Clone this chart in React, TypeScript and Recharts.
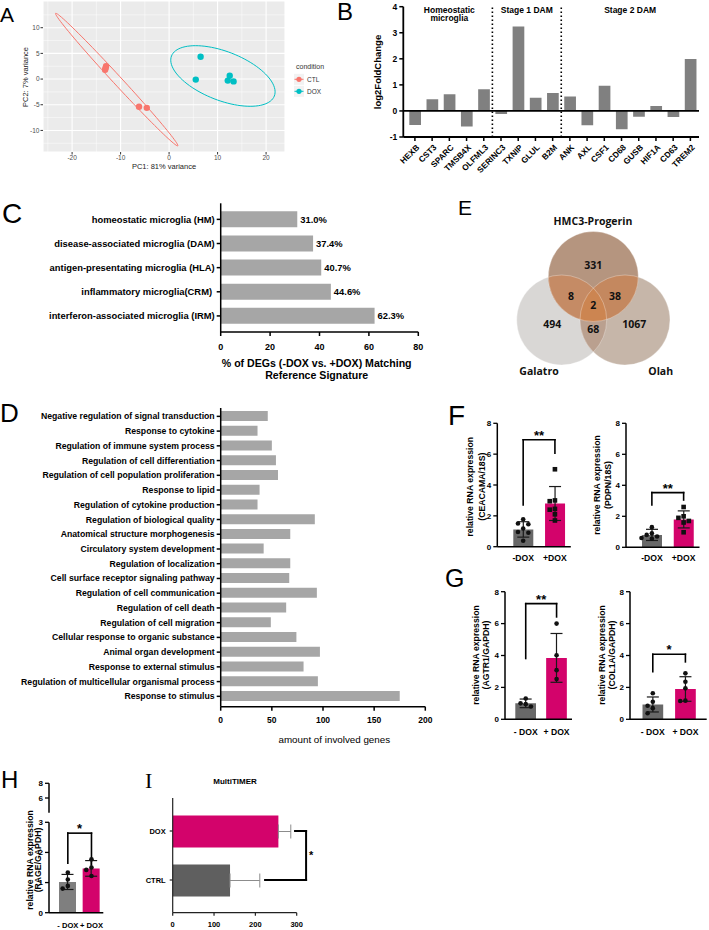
import React from "react";
import {
  ScatterChart,
  Scatter,
  BarChart,
  ComposedChart,
  Bar,
  Cell,
  XAxis,
  YAxis,
  CartesianGrid,
  ReferenceLine,
  ErrorBar,
  LabelList,
} from "recharts";

const SANS = "'Liberation Sans', Arial, Helvetica, sans-serif";
const BLACK = "#000";
const MAGENTA = "#D3036B";
const DARK_GREY = "#686868";
const MID_GREY = "#7F7F7F";
const BAR_GREY = "#A6A6A6";
const CTL_RED = "#F8766D";
const DOX_TEAL = "#00BFC4";

// ---- A: PCA ----
const pcaCtl = [
  { pc1: -13.0, pc2: 2.5 },
  { pc1: -13.1, pc2: 2.1 },
  { pc1: -13.2, pc2: 1.8 },
  { pc1: -6.2, pc2: -5.4 },
  { pc1: -4.6, pc2: -5.6 },
];
const pcaDox = [
  { pc1: 6.5, pc2: 4.35 },
  { pc1: 5.5, pc2: -0.1 },
  { pc1: 12.5, pc2: 0.65 },
  { pc1: 12.1, pc2: -0.3 },
  { pc1: 13.3, pc2: -0.45 },
];
// ellipse = centre + two semi-axis vectors (PC units)
const ctlEllipse = { cx: -10.8, cy: -0.1, ax: 12.6, ay: -12.9, bx: 0.65, by: 0.57 };
const doxEllipse = { cx: 11.1, cy: 0.6, ax: 10.6, ay: -3.9, bx: 1.83, by: 4.43 };
const pcaXMajor = [-20, -10, 0, 10, 20];
const pcaYMajor = [-10, -5, 0, 5, 10];
const pcaXMinor = [-25, -15, -5, 5, 15];
const pcaYMinor = [-12.5, -7.5, -2.5, 2.5, 7.5, 12.5];

// ---- B: log2 fold change of microglia markers ----
const genes = ["HEXB", "CST3", "SPARC", "TMSB4X", "OLFML3", "SERINC3", "TXNIP", "GLUL", "B2M",
  "ANK", "AXL", "CSF1", "CD68", "GUSB", "HIF1A", "CD63", "TREM2"];
const log2fc = [-0.54, 0.45, 0.64, -0.6, 0.83, -0.12, 3.24, 0.51, 0.69,
  0.55, -0.55, 0.97, -0.7, -0.22, 0.19, -0.23, 1.99];
const geneGroups = [
  { lines: ["Homeostatic", "microglia"], at: 2 },
  { lines: ["Stage 1 DAM"], at: 6.5 },
  { lines: ["Stage 2 DAM"], at: 12.5 },
];
const groupDividers = [4.5, 8.5];

// ---- C: signature matching ----
const signatures = [
  "homeostatic microglia (HM)",
  "disease-associated microglia (DAM)",
  "antigen-presentating microglia (HLA)",
  "inflammatory microglia(CRM)\u00a0",
  "interferon-associated microglia (IRM)",
];
const matchPct = [31.0, 37.4, 40.7, 44.6, 62.3];

// ---- D: GO terms ----
const goTerms = [
  "Negative regulation of signal transduction",
  "Response to cytokine",
  "Regulation of immune system process",
  "Regulation of cell differentiation",
  "Regulation of cell population proliferation",
  "Response to lipid",
  "Regulation of cytokine production",
  "Regulation of biological quality",
  "Anatomical structure morphogenesis",
  "Circulatory system development",
  "Regulation of localization",
  "Cell surface receptor signaling pathway",
  "Regulation of cell communication",
  "Regulation of cell death",
  "Regulation of cell migration",
  "Cellular response to organic substance",
  "Animal organ development",
  "Response to external stimulus",
  "Regulation of multicellular organismal process",
  "Response to stimulus",
];
const goGenes = [46, 36, 50, 54, 56, 38, 36, 92, 68, 42, 68, 67, 94, 64, 49, 74, 97, 81, 95, 175];

// ---- E: Venn ----
const vennSets = [
  { name: "Galatro", x: 61.7, y: 110, r: 45 },
  { name: "Olah", x: 125, y: 110, r: 45 },
  { name: "HMC3-Progerin", x: 93.3, y: 66.5, r: 45 },
];
const vennCounts = [
  { text: "331", x: 93.3, y: 55.7 },
  { text: "8", x: 71, y: 86 },
  { text: "38", x: 115, y: 86 },
  { text: "2", x: 93.3, y: 95 },
  { text: "494", x: 52.3, y: 114 },
  { text: "68", x: 93.3, y: 119 },
  { text: "1067", x: 134.3, y: 114 },
];
const vennLabels = [
  { text: "HMC3-Progerin", x: 93, y: 11.7 },
  { text: "Galatro", x: 39, y: 161.7 },
  { text: "Olah", x: 160.7, y: 161.7 },
];

// ---- F / G / H: qPCR ----
const doxNoSpace = ["-DOX", "+DOX"];
const doxSpaced = ["- DOX", "+ DOX"];
const ceacamMeans = [1.12, 2.8];
const ceacamSds = [0.5, 1.1];
const ceacamPoints = [[1.78, 1.5, 1.46, 1.18, 0.95, 0.9, 0.39], [5.02, 3.0, 2.95, 2.45, 2.4, 2.1, 1.7]];
const pdpnMeans = [0.8, 1.8];
const pdpnSds = [0.36, 0.55];
const pdpnPoints = [[1.3, 0.9, 0.8, 0.7, 0.6, 0.55], [2.6, 2.0, 1.9, 1.7, 1.6, 0.97]];
const agtr1Means = [1.0, 3.85];
const agtr1Sds = [0.27, 1.53];
const agtr1Points = [[1.3, 1.0, 0.95, 0.8], [6.0, 4.02, 3.08, 2.52]];
const col1aMeans = [0.93, 1.9];
const col1aSds = [0.47, 0.77];
const col1aPoints = [[1.63, 1.1, 0.85, 0.7, 0.38], [2.88, 2.35, 1.94, 1.17, 1.15]];
const rageMeans = [1.02, 1.47];
const rageSds = [0.25, 0.26];
const ragePoints = [[1.33, 1.1, 0.89, 0.8], [1.77, 1.5, 1.42, 1.22]];
const qpcrTicks = [0, 2, 4, 6, 8];

// ---- I: MultiTIMER ----
const timerGroups = ["DOX", "CTRL"];
const timerMeans = [255.7, 138.7];
const timerSds = [30, 72];

function ellipsePoints(e: typeof ctlEllipse) {
  const pts = [];
  for (let i = 0; i <= 96; i++) {
    const t = (i / 96) * Math.PI * 2;
    pts.push({
      pc1: e.cx + e.ax * Math.cos(t) + e.bx * Math.sin(t),
      pc2: e.cy + e.ay * Math.cos(t) + e.by * Math.sin(t),
    });
  }
  return pts;
}

// horizontal spread so replicate dots don't sit on top of each other
function swarm(values: number[], pxPerUnit: number, spacing = 5.2): number[] {
  const placed: { x: number; y: number }[] = [];
  const slots = [0, -1, 1, -2, 2, -3, 3];
  return values.map((v) => {
    const y = v * pxPerUnit;
    for (const s of slots) {
      const x = s * spacing;
      if (placed.every((p) => Math.hypot(p.x - x, p.y - y) >= spacing)) {
        placed.push({ x, y });
        return x;
      }
    }
    placed.push({ x: 0, y });
    return 0;
  });
}

function VTitle({ tx, ty, lines, size = 8.7, weight = 700, gap = 10, color = BLACK }: any) {
  return (
    <text transform={`translate(${tx} ${ty}) rotate(-90)`} textAnchor="middle" fontSize={size}
      fontWeight={weight} fontFamily={SANS} fill={color}>
      {lines.map((l: string, i: number) => (
        <tspan key={i} x={0} dy={i === 0 ? 0 : gap}>{l}</tspan>
      ))}
    </text>
  );
}

function HTitle({ tx, ty, lines, size = 9, weight = 700, gap = 12, color = BLACK }: any) {
  return (
    <text x={tx} y={ty} textAnchor="middle" fontSize={size} fontWeight={weight} fontFamily={SANS} fill={color}>
      {lines.map((l: string, i: number) => (
        <tspan key={i} x={tx} dy={i === 0 ? 0 : gap}>{l}</tspan>
      ))}
    </text>
  );
}

// single-line category tick (Recharts' own tick text wraps long labels)
function CatTick({ x, y, payload, size = 8.5, anchor = "end", dy = 0.35 }: any) {
  return (
    <text x={x} y={y} dy={`${dy}em`} textAnchor={anchor} fontSize={size} fontWeight={700}
      fontFamily={SANS} fill={BLACK}>
      {payload.value}
    </text>
  );
}

function GroupTitle({ viewBox, lines }: any) {
  const x = viewBox?.x ?? 0;
  const y = viewBox?.y ?? 0;
  return (
    <text x={x} y={y + 5.8} textAnchor="middle" fontSize={8.5} fontWeight={700} fontFamily={SANS} fill={BLACK}>
      {lines.map((l: string, i: number) => (
        <tspan key={i} x={x} dy={i === 0 ? 0 : 8.8}>{l}</tspan>
      ))}
    </text>
  );
}

function GeneTick({ x, y, payload }: any) {
  const ax = x + 5;
  const ay = y + 5;
  return (
    <text x={ax} y={ay} transform={`rotate(-45 ${ax} ${ay})`} textAnchor="end" fontSize={8.3}
      fontWeight={700} fontFamily={SANS} fill={BLACK}>
      {payload.value}
    </text>
  );
}

function PcaPanel() {
  const tick = { fontSize: 6.5, fill: "#4D4D4D", fontFamily: SANS };
  return (
    <div style={{ position: "absolute", left: 0, top: 0 }}>
      <ScatterChart width={290} height={172} margin={{ top: 1, right: 5, bottom: 0, left: 0 }}>
        <CartesianGrid fill="#EBEBEB" stroke="#FFFFFF" strokeWidth={1.1} />
        {pcaXMinor.map((v) => (
          <ReferenceLine key={`mx${v}`} x={v} stroke="#FFFFFF" strokeWidth={0.5} />
        ))}
        {pcaYMinor.map((v) => (
          <ReferenceLine key={`my${v}`} y={v} stroke="#FFFFFF" strokeWidth={0.5} />
        ))}
        <XAxis type="number" dataKey="pc1" domain={[-26, 23.9]} allowDataOverflow ticks={pcaXMajor}
          axisLine={false} tickLine={{ stroke: "#333" }} tickSize={2.5} tickMargin={1} tick={tick} height={20}
          label={<HTitle tx={164} ty={169} lines={["PC1: 81% variance"]} size={7.5} weight={400} color="#222" />} />
        <YAxis type="number" dataKey="pc2" domain={[-14.2, 15.2]} allowDataOverflow ticks={pcaYMajor}
          axisLine={false} tickLine={{ stroke: "#333" }} tickSize={2.5} tickMargin={1} tick={tick} width={43}
          label={<VTitle tx={27.5} ty={77} lines={["PC2: 7% variance"]} size={7.5} weight={400} color="#222" />} />
        <Scatter data={pcaCtl} isAnimationActive={false}
          shape={(p: any) => <circle cx={p.cx} cy={p.cy} r={3.2} fill={CTL_RED} />} />
        <Scatter data={pcaDox} isAnimationActive={false}
          shape={(p: any) => <circle cx={p.cx} cy={p.cy} r={3.2} fill={DOX_TEAL} />} />
        <Scatter data={ellipsePoints(ctlEllipse)} line={{ stroke: CTL_RED, strokeWidth: 1 }}
          shape={() => <g />} isAnimationActive={false} />
        <Scatter data={ellipsePoints(doxEllipse)} line={{ stroke: DOX_TEAL, strokeWidth: 1 }}
          shape={() => <g />} isAnimationActive={false} />
      </ScatterChart>
    </div>
  );
}

function FoldChangePanel() {
  const rows = genes.map((g, i) => ({ gene: g, lfc: log2fc[i], idx: i }));
  return (
    <div style={{ position: "absolute", left: 340, top: 0 }}>
      <BarChart width={369} height={190} data={rows} margin={{ top: 6.7, right: 10, bottom: 0, left: 0 }} barSize={11.7}>
        <XAxis dataKey="gene" interval={0} height={53} padding={{ left: 3, right: 0 }} tick={<GeneTick />}
          tickLine={{ stroke: BLACK, strokeWidth: 1.5 }} tickSize={4}
          axisLine={{ stroke: BLACK, strokeWidth: 1.8 }} />
        <XAxis xAxisId="n" type="number" dataKey="idx" domain={[-0.5, 16.5]} allowDataOverflow hide
          padding={{ left: 3, right: 0 }} />
        <YAxis type="number" domain={[-1, 4]} ticks={[-1, 0, 1, 2, 3, 4]} allowDataOverflow width={63.3}
          tickSize={4} tickMargin={2} axisLine={{ stroke: BLACK, strokeWidth: 1.8 }}
          tickLine={{ stroke: BLACK, strokeWidth: 1.5 }}
          tick={{ fontSize: 8.5, fontWeight: 700, fill: BLACK, fontFamily: SANS }}
          label={<VTitle tx={40.5} ty={72} lines={["log2FoldChange"]} size={9.5} />} />
        <Bar dataKey="lfc" fill="#808080" isAnimationActive={false} />
        <ReferenceLine y={0} stroke={BLACK} strokeWidth={1.8} />
        {groupDividers.map((v) => (
          <ReferenceLine key={v} xAxisId="n" x={v} stroke={BLACK} strokeWidth={1.6} strokeDasharray="1.4 2.6" />
        ))}
        {geneGroups.map((g) => (
          <ReferenceLine key={g.at} xAxisId="n" x={g.at} stroke="none" label={<GroupTitle lines={g.lines} />} />
        ))}
      </BarChart>
    </div>
  );
}

function SignaturePanel() {
  const rows = signatures.map((s, i) => ({ sig: s, pct: matchPct[i] }));
  return (
    <div style={{ position: "absolute", left: 0, top: 195 }}>
      <BarChart layout="vertical" width={430} height={197} data={rows} barSize={16}
        margin={{ top: 8.3, right: 11.7, bottom: 0, left: 0 }}>
        <XAxis type="number" domain={[0, 80]} ticks={[0, 20, 40, 60, 80]} height={60} tickSize={4} tickMargin={8}
          axisLine={{ stroke: BLACK, strokeWidth: 1.5 }} tickLine={{ stroke: BLACK, strokeWidth: 1.5 }}
          tick={{ fontSize: 9, fontWeight: 700, fill: BLACK, fontFamily: SANS }}
          label={<HTitle tx={316.7} ty={171.8} lines={["% of DEGs (-DOX vs. +DOX) Matching", "Reference Signature"]} size={10.6} gap={12} />} />
        <YAxis type="category" dataKey="sig" width={220.7} padding={{ top: 4, bottom: 4 }} interval={0}
          tickSize={4} tickMargin={2} axisLine={{ stroke: BLACK, strokeWidth: 1.5 }}
          tickLine={{ stroke: BLACK, strokeWidth: 1.5 }}
          tick={<CatTick size={9.4} />} />
        <Bar dataKey="pct" fill={BAR_GREY} isAnimationActive={false}>
          <LabelList dataKey="pct" position="right" offset={3}
            formatter={(v: any) => `${Number(v).toFixed(1)}%`}
            style={{ fontSize: 9.4, fontWeight: 700, fill: BLACK, fontFamily: SANS }} />
        </Bar>
      </BarChart>
    </div>
  );
}

function GoPanel() {
  const rows = goTerms.map((t, i) => ({ term: t, n: goGenes[i] }));
  return (
    <div style={{ position: "absolute", left: 0, top: 400 }}>
      <BarChart layout="vertical" width={440} height={352} data={rows} barSize={10}
        margin={{ top: 8, right: 14.7, bottom: 0, left: 0 }}>
        <XAxis type="number" domain={[0, 200]} ticks={[0, 50, 100, 150, 200]} height={45.3} tickSize={4} tickMargin={6}
          axisLine={{ stroke: BLACK, strokeWidth: 1.5 }} tickLine={{ stroke: BLACK, strokeWidth: 1.5 }}
          tick={{ fontSize: 8.5, fontWeight: 700, fill: BLACK, fontFamily: SANS }}
          label={<HTitle tx={334.3} ty={342.6} lines={["amount of involved genes"]} size={9.8} weight={400} />} />
        <YAxis type="category" dataKey="term" width={220.7} padding={{ top: 1, bottom: 3 }} interval={0}
          tickSize={4} tickMargin={2} axisLine={{ stroke: BLACK, strokeWidth: 1.5 }}
          tickLine={{ stroke: BLACK, strokeWidth: 1.5 }}
          tick={<CatTick size={8.7} />} />
        <Bar dataKey="n" fill={BAR_GREY} isAnimationActive={false} />
      </BarChart>
    </div>
  );
}

const VENN_FILL: Record<string, string> = {
  Galatro: "#D9D7D5",
  Olah: "#C6B6A9",
  "HMC3-Progerin": "#B5957F",
};

function VennCircle(props: any) {
  const { cx, cy, payload } = props;
  const at = (name: string) => {
    const s = vennSets.find((v) => v.name === name)!;
    return { x: cx + (s.x - payload.x), y: cy + (s.y - payload.y), r: s.r };
  };
  const me = { x: cx, y: cy, r: payload.r };
  const gal = at("Galatro");
  const olah = at("Olah");
  const own = <circle cx={me.x} cy={me.y} r={me.r} fill={VENN_FILL[payload.name]} />;
  if (payload.name === "Galatro") return own;
  if (payload.name === "Olah") {
    return (
      <g>
        <defs>
          <clipPath id="venn-clip-gal-a"><circle cx={gal.x} cy={gal.y} r={gal.r} /></clipPath>
        </defs>
        {own}
        <circle cx={me.x} cy={me.y} r={me.r} fill="#BAA08F" clipPath="url(#venn-clip-gal-a)" />
      </g>
    );
  }
  return (
    <g>
      <defs>
        <clipPath id="venn-clip-gal-b"><circle cx={gal.x} cy={gal.y} r={gal.r} /></clipPath>
        <clipPath id="venn-clip-olah-b"><circle cx={olah.x} cy={olah.y} r={olah.r} /></clipPath>
      </defs>
      {own}
      <circle cx={me.x} cy={me.y} r={me.r} fill="#C58B65" clipPath="url(#venn-clip-gal-b)" />
      <circle cx={me.x} cy={me.y} r={me.r} fill="#C4885F" clipPath="url(#venn-clip-olah-b)" />
      <g clipPath="url(#venn-clip-gal-b)">
        <circle cx={me.x} cy={me.y} r={me.r} fill="#CC8551" clipPath="url(#venn-clip-olah-b)" />
      </g>
      {[gal, olah, me].map((c, i) => (
        <circle key={i} cx={c.x} cy={c.y} r={c.r} fill="none" stroke="#FFFFFF" strokeOpacity={0.35} strokeWidth={0.9} />
      ))}
    </g>
  );
}

function VennText(props: any) {
  const { cx, cy, payload } = props;
  return (
    <text x={cx} y={cy + 3.7} textAnchor="middle" fontSize={10.5} fontWeight={700}
      fontFamily="'Open Sans', 'Liberation Sans', sans-serif" fill="#111">
      {payload.text}
    </text>
  );
}

function VennPanel() {
  return (
    <div style={{ position: "absolute", left: 500, top: 210 }}>
      <ScatterChart width={200} height={175} margin={{ top: 0, right: 0, bottom: 0, left: 0 }}>
        <XAxis type="number" dataKey="x" domain={[0, 200]} allowDataOverflow hide />
        <YAxis type="number" dataKey="y" domain={[0, 175]} allowDataOverflow hide reversed />
        <Scatter data={vennSets} shape={VennCircle} isAnimationActive={false} />
        <Scatter data={vennCounts} shape={VennText} isAnimationActive={false} />
        <Scatter data={vennLabels} shape={VennText} isAnimationActive={false} />
      </ScatterChart>
    </div>
  );
}

type Bracket = { from: number; to: number; top: number; mark: string };

function bracketLines(groups: string[], b: Bracket) {
  const line = { stroke: BLACK, strokeWidth: 1.6, ifOverflow: "visible" as const, strokeLinecap: "square" as const };
  return [
    <ReferenceLine key="bl" {...line} segment={[{ x: groups[0], y: b.from }, { x: groups[0], y: b.top }]} />,
    <ReferenceLine key="bt" {...line} segment={[{ x: groups[0], y: b.top }, { x: groups[1], y: b.top }]}
      label={{ value: b.mark, position: "top", offset: 0, fontSize: 13, fontWeight: 700, fill: BLACK, fontFamily: SANS }} />,
    <ReferenceLine key="br" {...line} segment={[{ x: groups[1], y: b.top }, { x: groups[1], y: b.to }]} />,
  ];
}

type DotBarProps = {
  box: { left: number; top: number; width: number; height: number };
  margin: { top: number; right: number; bottom: number; left: number };
  yWidth: number;
  xHeight: number;
  pad: { left: number; right: number };
  domain: [number, number];
  ticks: number[];
  groups: string[];
  means: number[];
  sds: number[];
  points: number[][];
  fills: string[];
  squareGroup?: string;
  bracket: Bracket;
  title: { tx: number; ty: number; gap: number; lines: string[] };
  xTickMargin: number;
  xTickSize?: number;
  barSize: number;
};

function DotBarChart(p: DotBarProps) {
  const plotH = p.box.height - p.margin.top - p.margin.bottom - p.xHeight;
  const ppu = plotH / (p.domain[1] - p.domain[0]);
  const rows = p.groups.map((g, gi) => {
    const row: Record<string, any> = { g, mean: p.means[gi], sd: p.sds[gi] };
    const dx = swarm(p.points[gi], ppu);
    p.points[gi].forEach((v, k) => {
      row[`p${k}`] = v;
      row[`dx${k}`] = dx[k];
    });
    return row;
  });
  const n = Math.max(...p.points.map((pts) => pts.length));
  const tick = { fontSize: 8, fontWeight: 700, fill: BLACK, fontFamily: SANS };
  return (
    <div style={{ position: "absolute", left: p.box.left, top: p.box.top }}>
      <ComposedChart width={p.box.width} height={p.box.height} data={rows} margin={p.margin}>
        <XAxis dataKey="g" height={p.xHeight} padding={p.pad} tickLine={false} tickSize={0} tickMargin={p.xTickMargin}
          interval={0} axisLine={{ stroke: BLACK, strokeWidth: 1.5 }}
          tick={<CatTick size={p.xTickSize ?? 8.6} anchor="middle" dy={0.71} />} />
        <YAxis type="number" domain={p.domain} ticks={p.ticks} allowDataOverflow width={p.yWidth}
          tickSize={4} tickMargin={2} axisLine={{ stroke: BLACK, strokeWidth: 1.5 }}
          tickLine={{ stroke: BLACK, strokeWidth: 1.3 }} tick={tick}
          label={<VTitle tx={p.title.tx} ty={p.title.ty} lines={p.title.lines} gap={p.title.gap} />} />
        <Bar dataKey="mean" barSize={p.barSize} isAnimationActive={false}>
          {rows.map((_, i) => (
            <Cell key={i} fill={p.fills[i]} />
          ))}
          <ErrorBar dataKey="sd" width={6} stroke="#1A1A1A" strokeWidth={1.2} direction="y" />
        </Bar>
        {Array.from({ length: n }, (_, k) => (
          <Scatter key={k} dataKey={`p${k}`} isAnimationActive={false}
            shape={(s: any) => {
              if (s.cy == null || Number.isNaN(s.cy)) return <g />;
              const x = s.cx + (s.payload[`dx${k}`] ?? 0);
              return s.payload.g === p.squareGroup
                ? <rect x={x - 2.3} y={s.cy - 2.3} width={4.6} height={4.6} fill="#111" />
                : <circle cx={x} cy={s.cy} r={2.3} fill="#111" />;
            }} />
        ))}
        {bracketLines(p.groups, p.bracket)}
      </ComposedChart>
    </div>
  );
}

function RageUpperAxis() {
  const rows = doxSpaced.map((g) => ({ g }));
  return (
    <div style={{ position: "absolute", left: 0, top: 775 }}>
      <ComposedChart width={107} height={40} data={rows} margin={{ top: 8.3, right: 3.7, bottom: 2.3, left: 0 }}>
        <XAxis dataKey="g" hide />
        <YAxis type="number" domain={[4, 8]} ticks={[4, 6, 8]} allowDataOverflow width={49}
          tickSize={4} tickMargin={2} axisLine={{ stroke: BLACK, strokeWidth: 1.5 }}
          tickLine={{ stroke: BLACK, strokeWidth: 1.3 }}
          tick={{ fontSize: 8, fontWeight: 700, fill: BLACK, fontFamily: SANS }} />
      </ComposedChart>
    </div>
  );
}

function TimerPanel() {
  const rows = timerGroups.map((g, i) => ({ group: g, mean: timerMeans[i], err: [0, timerSds[i]] }));
  const fills = [MAGENTA, "#5F5F5F"];
  const line = { stroke: BLACK, strokeWidth: 2, ifOverflow: "visible" as const, strokeLinecap: "square" as const };
  const tick = { fontSize: 7.5, fontWeight: 700, fill: BLACK, fontFamily: SANS };
  return (
    <div style={{ position: "absolute", left: 120, top: 770 }}>
      <ComposedChart layout="vertical" width={200} height={160} data={rows}
        margin={{ top: 28, right: 23.3, bottom: 0, left: 0 }}>
        <XAxis type="number" domain={[0, 300]} ticks={[0, 100, 200, 300]} height={17.3} tickSize={3} tickMargin={6}
          axisLine={{ stroke: "#222", strokeWidth: 1.2 }} tickLine={{ stroke: "#222", strokeWidth: 1.2 }} tick={tick} />
        <YAxis type="category" dataKey="group" width={52.7} padding={{ top: 8.5, bottom: 8.2 }} tickSize={3} tickMargin={4}
          axisLine={{ stroke: "#222", strokeWidth: 1.2 }} tickLine={{ stroke: "#222", strokeWidth: 1.2 }} tick={tick} />
        <Bar dataKey="mean" barSize={32} isAnimationActive={false}>
          {rows.map((_, i) => (
            <Cell key={i} fill={fills[i]} />
          ))}
          <ErrorBar dataKey="err" direction="x" width={7} stroke="#8C8C8C" strokeWidth={1} />
        </Bar>
        <ReferenceLine {...line} segment={[{ x: 296, y: "DOX" }, { x: 322.7, y: "DOX" }]} />
        <ReferenceLine {...line} segment={[{ x: 322.7, y: "DOX" }, { x: 322.7, y: "CTRL" }]}
          label={{ value: "*", position: "right", offset: 3, fontSize: 11, fontWeight: 700, fill: BLACK, fontFamily: SANS }} />
        <ReferenceLine {...line} segment={[{ x: 223.5, y: "CTRL" }, { x: 322.7, y: "CTRL" }]} />
      </ComposedChart>
    </div>
  );
}

const panelLetters = [
  { t: "A", x: 0, y: 22, size: 21 },
  { t: "B", x: 337, y: 20, size: 24 },
  { t: "C", x: 2, y: 223, size: 28 },
  { t: "D", x: 0, y: 422, size: 26 },
  { t: "E", x: 458, y: 215, size: 21 },
  { t: "F", x: 448, y: 425, size: 28 },
  { t: "G", x: 445, y: 587, size: 25 },
  { t: "H", x: 1, y: 788, size: 24 },
];

function Overlay() {
  return (
    <svg width={709} height={930} style={{ position: "absolute", left: 0, top: 0, pointerEvents: "none" }}>
      {panelLetters.map((l) => (
        <text key={l.t} x={l.x} y={l.y} fontSize={l.size} fontFamily={SANS} fill={BLACK}>{l.t}</text>
      ))}
      <text x={145} y={788} fontSize={22} fontFamily="'Liberation Serif', 'DejaVu Serif', serif" fill={BLACK}>I</text>
      {/* ggplot legend for panel A */}
      <text x={296} y={68.5} fontSize={7} fontFamily={SANS} fill="#333">condition</text>
      {[{ label: "CTL", c: CTL_RED, y: 79.3 }, { label: "DOX", c: DOX_TEAL, y: 91.3 }].map((k) => (
        <g key={k.label}>
          <rect x={294} y={k.y - 5.5} width={10} height={11} fill="#F2F2F2" />
          <line x1={294.5} x2={303.5} y1={k.y} y2={k.y} stroke={k.c} strokeWidth={1} />
          <circle cx={299} cy={k.y} r={2.6} fill={k.c} />
          <text x={307} y={k.y + 2.3} fontSize={6.5} fontFamily={SANS} fill="#333">{k.label}</text>
        </g>
      ))}
      <text x={235} y={783.5} textAnchor="middle" fontSize={8} fontWeight={700} fontFamily={SANS} fill={BLACK}>MultiTIMER</text>
    </svg>
  );
}

export default function App() {
  return (
    <div style={{ position: "absolute", left: 0, top: 0, width: 709, height: 930, background: "#FFFFFF", overflow: "hidden", fontFamily: SANS }}>
      <PcaPanel />
      <FoldChangePanel />
      <SignaturePanel />
      <GoPanel />
      <VennPanel />
      <DotBarChart
        box={{ left: 455, top: 410, width: 118, height: 155 }}
        margin={{ top: 13.3, right: 2.2, bottom: 0, left: 0 }}
        yWidth={42.3} xHeight={18.3} pad={{ left: 10, right: 0 }} xTickMargin={8}
        domain={[0, 8]} ticks={qpcrTicks} groups={doxNoSpace}
        means={ceacamMeans} sds={ceacamSds} points={ceacamPoints}
        fills={[DARK_GREY, MAGENTA]} squareGroup="+DOX" barSize={20}
        bracket={{ from: 2.7, to: 6.06, top: 6.93, mark: "**" }}
        title={{ tx: 18.2, ty: 76.7, gap: 11.7, lines: ["relative RNA expression", "(CEACAMA/18S)"] }}
      />
      <DotBarChart
        box={{ left: 585, top: 410, width: 117, height: 155 }}
        margin={{ top: 13.3, right: 2.5, bottom: 0, left: 0 }}
        yWidth={41} xHeight={17.7} pad={{ left: 10, right: 0 }} xTickMargin={8}
        domain={[0, 8]} ticks={qpcrTicks} groups={doxNoSpace}
        means={pdpnMeans} sds={pdpnSds} points={pdpnPoints}
        fills={[DARK_GREY, MAGENTA]} squareGroup="+DOX" barSize={20}
        bracket={{ from: 2.73, to: 3.05, top: 3.53, mark: "**" }}
        title={{ tx: 14.9, ty: 75, gap: 11.6, lines: ["relative RNA expression", "(PDPN/18S)"] }}
      />
      <DotBarChart
        box={{ left: 463, top: 578, width: 111, height: 162 }}
        margin={{ top: 13.7, right: 2, bottom: 0, left: 0 }}
        yWidth={42} xHeight={20.7} pad={{ left: 5.3, right: 0 }} xTickMargin={9.4}
        domain={[0, 8]} ticks={qpcrTicks} groups={doxSpaced}
        means={agtr1Means} sds={agtr1Sds} points={agtr1Points}
        fills={[DARK_GREY, MAGENTA]} barSize={20.7}
        bracket={{ from: 3.81, to: 6.42, top: 7.25, mark: "**" }}
        title={{ tx: 15.9, ty: 77, gap: 10.3, lines: ["relative RNA expression", "(AGTR1/GAPDH)"] }}
      />
      <DotBarChart
        box={{ left: 588, top: 578, width: 121, height: 162 }}
        margin={{ top: 13.7, right: 2.3, bottom: 0, left: 0 }}
        yWidth={42} xHeight={20.7} pad={{ left: 6.5, right: 5 }} xTickMargin={9.4}
        domain={[0, 8]} ticks={qpcrTicks} groups={doxSpaced}
        means={col1aMeans} sds={col1aSds} points={col1aPoints}
        fills={[DARK_GREY, MAGENTA]} barSize={20.7}
        bracket={{ from: 2.98, to: 3.6, top: 4.08, mark: "*" }}
        title={{ tx: 16.9, ty: 77, gap: 10, lines: ["relative RNA expression", "(COL1A/GAPDH)"] }}
      />
      <RageUpperAxis />
      <DotBarChart
        box={{ left: 0, top: 780, width: 107, height: 150 }}
        margin={{ top: 42.3, right: 3.7, bottom: 0, left: 0 }}
        yWidth={49} xHeight={17.3} pad={{ left: 7, right: 0 }} xTickMargin={9.5} xTickSize={7.6}
        domain={[0, 3]} ticks={[0, 1, 2, 3]} groups={doxSpaced}
        means={rageMeans} sds={rageSds} points={ragePoints}
        fills={[MID_GREY, MAGENTA]} barSize={17}
        bracket={{ from: 1.64, to: 1.59, top: 2.64, mark: "*" }}
        title={{ tx: 32.5, ty: 80, gap: 8.8, lines: ["relative RNA expression", "(RAGE/GAPDH)"] }}
      />
      <TimerPanel />
      <Overlay />
    </div>
  );
}
